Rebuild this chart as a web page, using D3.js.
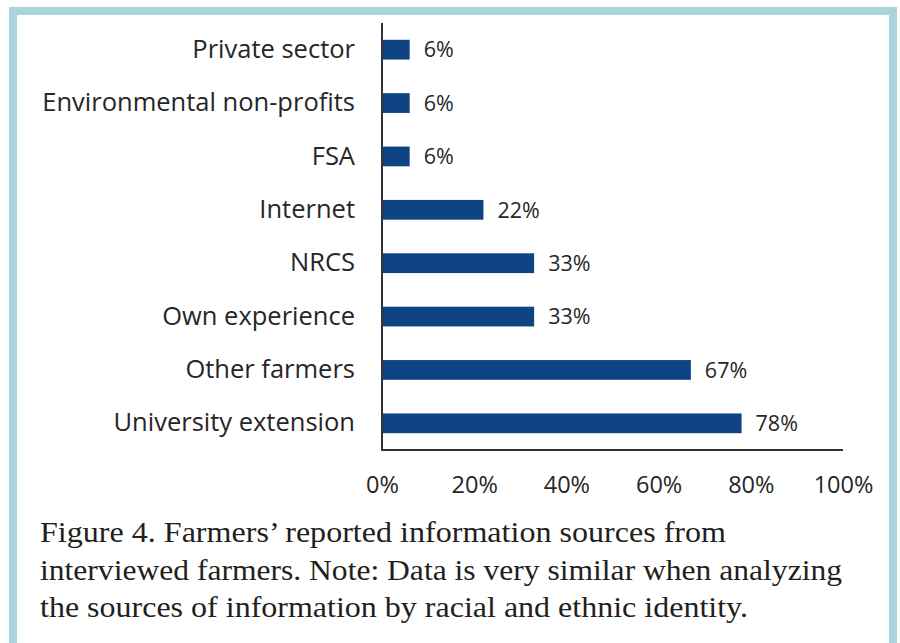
<!DOCTYPE html>
<html>
<head>
<meta charset="utf-8">
<script src="https://cdn.jsdelivr.net/npm/d3@7"></script>
<style>
  html, body { margin: 0; padding: 0; background: #fff; }
  svg { display: block; }
</style>
</head>
<body>
<svg id="chart" width="900" height="643"></svg>
<script>
// Information sources reported by interviewed farmers (share of respondents)
const categories = [
  "Private sector",
  "Environmental non-profits",
  "FSA",
  "Internet",
  "NRCS",
  "Own experience",
  "Other farmers",
  "University extension"
];
const values = [6, 6, 6, 22, 33, 33, 67, 78];
const tickValues = [0, 20, 40, 60, 80, 100];
const captionLines = [
  "Figure 4. Farmers\u2019 reported information sources from",
  "interviewed farmers. Note: Data is very similar when analyzing",
  "the sources of information by racial and ethnic identity."
];
const captionWidths = [686, 802, 708];

const data = categories.map((c, i) => ({ category: c, value: values[i] }));

const svg = d3.select("#chart");

// Framed panel: teal border on top, left and right
const frame = svg.append("g");
const borderColor = "#a9d5da";
frame.append("rect").attr("x", 9).attr("y", 7).attr("width", 888).attr("height", 8).attr("fill", borderColor);
frame.append("rect").attr("x", 9).attr("y", 7).attr("width", 8).attr("height", 636).attr("fill", borderColor);
frame.append("rect").attr("x", 889).attr("y", 7).attr("width", 8).attr("height", 636).attr("fill", borderColor);

const plot = { left: 382, right: 843, top: 23, bottom: 450 };

const x = d3.scaleLinear().domain([0, 100]).range([plot.left, plot.right]);
const y = d3.scaleBand()
  .domain(categories)
  .range([plot.top, plot.bottom])
  .paddingInner(0.63)
  .paddingOuter(0.315);

const sansFont = "'Open Sans', Lato, sans-serif";
const textColor = "#262626";

// Bars
svg.append("g")
  .selectAll("rect")
  .data(data)
  .join("rect")
  .attr("x", x(0))
  .attr("y", d => y(d.category))
  .attr("width", d => x(d.value) - x(0))
  .attr("height", y.bandwidth())
  .attr("fill", "#0f4384");

// Value labels
svg.append("g")
  .selectAll("text")
  .data(data)
  .join("text")
  .attr("x", d => x(d.value) + 14)
  .attr("y", d => y(d.category) + y.bandwidth() / 2)
  .attr("dy", "0.36em")
  .attr("font-family", sansFont)
  .attr("font-size", 21.5)
  .attr("fill", textColor)
  .text(d => d.value + "%");

// Category axis (left)
const yAxis = svg.append("g")
  .attr("transform", `translate(${plot.left},0)`)
  .call(d3.axisLeft(y).tickSize(0).tickPadding(27));
yAxis.select(".domain").attr("stroke", "#333").attr("stroke-width", 2)
  .attr("d", `M0,${plot.top}V${plot.bottom}`);
yAxis.selectAll("text")
  .attr("font-family", sansFont)
  .attr("font-size", 25.5)
  .attr("fill", textColor);

// Value axis (bottom)
const xAxis = svg.append("g")
  .attr("transform", `translate(0,${plot.bottom})`)
  .call(d3.axisBottom(x).tickValues(tickValues).tickFormat(d => d + "%").tickSize(0).tickPadding(26));
xAxis.select(".domain").attr("stroke", "#333").attr("stroke-width", 2)
  .attr("d", `M${plot.left - 1},0H${plot.right}`);
xAxis.selectAll("text")
  .attr("font-family", sansFont)
  .attr("font-size", 23.5)
  .attr("fill", textColor);

// Caption
svg.append("g")
  .selectAll("text")
  .data(captionLines)
  .join("text")
  .attr("x", 40)
  .attr("y", (d, i) => 542 + i * 37.5)
  .attr("font-family", "'Liberation Serif', 'DejaVu Serif', serif")
  .attr("font-size", 28.5)
  .attr("textLength", (d, i) => captionWidths[i])
  .attr("lengthAdjust", "spacingAndGlyphs")
  .attr("fill", "#231f20")
  .text(d => d);
</script>
</body>
</html>
